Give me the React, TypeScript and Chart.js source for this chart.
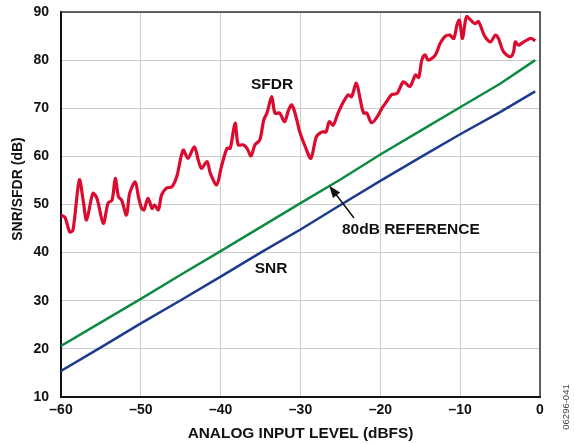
import React, { useEffect, useRef } from "react";
import { Chart, registerables } from "chart.js";

Chart.register(...registerables);

const xTicks = [-60, -50, -40, -30, -20, -10, 0];
const yTicks = [10, 20, 30, 40, 50, 60, 70, 80, 90];

const sfdrX = [
  -60, -59.5, -58.9, -58.5, -57.7, -57.2, -56.8, -56.0, -55.5, -54.7, -54.1, -53.6, -53.2, -52.8, -52.4,
  -51.8, -51.4, -50.7, -50.3, -49.9, -49.6, -49.1, -48.6, -48.3, -47.8, -47.4, -46.8, -46.1, -45.5,
  -44.7, -44.1, -43.3, -42.8, -42.4, -41.7, -41.3, -40.5, -39.9, -39.2, -38.8, -38.2, -37.8, -37.2,
  -36.7, -36.2, -35.7, -35.1, -34.6, -34.2, -33.6, -33.2, -32.6, -32.0, -31.5, -31.1, -30.6, -30.1,
  -29.4, -28.7, -28.0, -27.3, -26.8, -26.4, -25.9, -25.3, -24.6, -24.0, -23.6, -23.0, -22.5, -22.1,
  -21.7, -21.1, -20.4, -19.8, -19.2, -18.6, -17.9, -17.1, -16.3, -15.6, -15.2, -14.8, -14.4, -14.0,
  -13.1, -12.5, -11.9, -11.3, -10.8, -10.4, -10.1, -9.7, -9.2, -8.5, -8.1, -7.7, -6.9, -6.2, -5.6,
  -5.2, -4.6, -3.7, -3.3, -3.1, -2.7, -2.3, -1.6, -1.1, -0.6,
];
const sfdrY = [
  47.8, 47.3, 44.3, 44.7, 55.1, 50.6, 46.8, 52.3, 51.3, 46.1, 50.3, 50.9, 55.4, 51.6, 50.9,
  47.8, 52.3, 54.7, 51.6, 49.2, 48.9, 51.3, 49.2, 49.9, 48.9, 52.0, 53.4, 53.7, 55.8,
  61.3, 59.6, 62.0, 59.2, 57.5, 58.9, 56.5, 54.1, 57.9, 61.7, 61.7, 66.9, 62.4, 62.4,
  61.7, 60.1, 62.4, 63.4, 67.6, 69.0, 72.4, 69.0, 69.0, 67.2, 69.6, 70.7, 68.5, 65.1,
  62.0, 59.6, 64.1, 65.1, 65.1, 67.2, 66.5, 69.0, 71.4, 72.8, 72.4, 75.2, 71.7, 69.0,
  69.0, 67.0, 68.2, 70.0, 71.4, 72.8, 73.1, 75.5, 74.5, 76.9, 76.4, 80.0, 81.1, 80.0,
  81.1, 83.5, 84.9, 85.2, 84.5, 87.3, 88.3, 84.5, 89.0, 88.0, 87.6, 88.0, 84.9, 83.8, 85.2,
  84.5, 81.8, 80.7, 81.8, 83.8, 83.1, 83.5, 84.2, 84.5, 84.0,
];

const refX = [-60, -55, -50, -45, -40, -35, -30, -25, -20, -15, -10, -5, -0.6];
const refY = [20.6, 25.5, 30.4, 35.4, 40.3, 45.3, 50.3, 55.2, 60.4, 65.3, 70.2, 75.1, 80.0];

const snrX = [-60, -55, -50, -45, -40, -35, -30, -25, -20, -15, -10, -5, -0.6];
const snrY = [15.4, 20.3, 25.3, 30.1, 35.0, 40.0, 44.8, 49.9, 54.9, 59.8, 64.6, 69.2, 73.5];

const FONT = "'Liberation Sans', Arial, Helvetica, sans-serif";

const toPts = (xs: number[], ys: number[]) => xs.map((x, i) => ({ x, y: ys[i] }));

export default function App() {
  const ref = useRef<HTMLCanvasElement | null>(null);

  useEffect(() => {
    const canvas = ref.current;
    if (!canvas) return;

    const decor = {
      id: "decor",
      afterDraw(chart: any) {
        const { ctx, chartArea: a, scales } = chart;
        const xs = scales.x;
        const ys = scales.y;
        ctx.save();
        // frame top/right
        ctx.strokeStyle = "#333333";
        ctx.lineWidth = 1.5;
        ctx.beginPath();
        ctx.moveTo(a.left, a.top);
        ctx.lineTo(a.right, a.top);
        ctx.lineTo(a.right, a.bottom);
        ctx.stroke();
        // labels
        ctx.fillStyle = "#111111";
        ctx.font = `bold 15.5px ${FONT}`;
        ctx.textAlign = "center";
        ctx.textBaseline = "middle";
        ctx.fillText("SFDR", xs.getPixelForValue(-33.57), ys.getPixelForValue(74.9));
        ctx.fillText("SNR", xs.getPixelForValue(-33.69), ys.getPixelForValue(36.7));
        ctx.fillText("80dB REFERENCE", xs.getPixelForValue(-16.18), ys.getPixelForValue(44.8));
        // y axis title
        ctx.save();
        ctx.translate(18, 189);
        ctx.rotate(-Math.PI / 2);
        ctx.font = `bold 14px ${FONT}`;
        ctx.fillText("SNR/SFDR (dB)", 0, 0);
        ctx.restore();
        // arrow
        const tx = xs.getPixelForValue(-26.4);
        const ty = ys.getPixelForValue(53.9);
        const sx = xs.getPixelForValue(-23.3);
        const sy = ys.getPixelForValue(47.2);
        const ang = Math.atan2(ty - sy, tx - sx);
        ctx.strokeStyle = "#111111";
        ctx.lineWidth = 1.5;
        ctx.beginPath();
        ctx.moveTo(sx, sy);
        ctx.lineTo(tx - Math.cos(ang) * 8, ty - Math.sin(ang) * 8);
        ctx.stroke();
        ctx.beginPath();
        ctx.moveTo(tx, ty);
        ctx.lineTo(tx - Math.cos(ang) * 12 + Math.sin(ang) * 4.5, ty - Math.sin(ang) * 12 - Math.cos(ang) * 4.5);
        ctx.lineTo(tx - Math.cos(ang) * 12 - Math.sin(ang) * 4.5, ty - Math.sin(ang) * 12 + Math.cos(ang) * 4.5);
        ctx.closePath();
        ctx.fillStyle = "#111111";
        ctx.fill();
        // figure id
        ctx.save();
        ctx.translate(566, 407);
        ctx.rotate(-Math.PI / 2);
        ctx.font = `9.5px ${FONT}`;
        ctx.fillStyle = "#444444";
        ctx.fillText("06296-041", 0, 0);
        ctx.restore();
        ctx.restore();
      },
    };

    const chart = new Chart(canvas, {
      type: "line",
      data: {
        datasets: [
          {
            label: "SFDR",
            data: toPts(sfdrX, sfdrY),
            borderColor: "#dc0a2e",
            borderWidth: 3.2,
            pointRadius: 0,
            tension: 0.3,
          },
          {
            label: "80dB REFERENCE",
            data: toPts(refX, refY),
            borderColor: "#0e8a44",
            borderWidth: 2.5,
            pointRadius: 0,
            tension: 0,
          },
          {
            label: "SNR",
            data: toPts(snrX, snrY),
            borderColor: "#1c3b8e",
            borderWidth: 2.5,
            pointRadius: 0,
            tension: 0,
          },
        ],
      },
      options: {
        animation: false,
        responsive: false,
        layout: { padding: { left: 0, top: 12, right: 34, bottom: 0 } },
        plugins: { legend: { display: false }, tooltip: { enabled: false } },
        scales: {
          x: {
            type: "linear",
            min: -60,
            max: 0,
            afterBuildTicks: (s: any) => {
              s.ticks = xTicks.map((v) => ({ value: v }));
            },
            afterFit: (s: any) => {
              s.height = 47;
              s.paddingLeft = 0;
              s.paddingRight = 0;
            },
            grid: { color: "#cccccc", lineWidth: 1, drawTicks: false },
            border: { color: "#111111", width: 2 },
            ticks: {
              padding: 5,
              color: "#111111",
              font: { family: FONT, size: 14, weight: "bold" },
              callback: (v: any) => (v < 0 ? "\u2013" + Math.abs(v) : String(v)),
              maxRotation: 0,
            },
            title: {
              display: true,
              text: "ANALOG INPUT LEVEL (dBFS)",
              color: "#111111",
              font: { family: FONT, size: 15.4, weight: "bold" },
              padding: { top: 0, bottom: 1 },
            },
          },
          y: {
            type: "linear",
            min: 10,
            max: 90,
            afterBuildTicks: (s: any) => {
              s.ticks = yTicks.map((v) => ({ value: v }));
            },
            afterFit: (s: any) => {
              s.width = 61;
              s.paddingTop = 0;
              s.paddingBottom = 0;
            },
            grid: { color: "#cccccc", lineWidth: 1, drawTicks: false },
            border: { color: "#111111", width: 2 },
            ticks: {
              padding: 12,
              color: "#111111",
              font: { family: FONT, size: 14, weight: "bold" },
            },
            title: { display: false },
          },
        },
      },
      plugins: [decor],
    } as any);

    return () => chart.destroy();
  }, []);

  return (
    <div style={{ position: "absolute", left: 0, top: 0, width: 574, height: 444, background: "#ffffff" }}>
      <canvas ref={ref} width={574} height={444} style={{ display: "block" }} />
    </div>
  );
}
